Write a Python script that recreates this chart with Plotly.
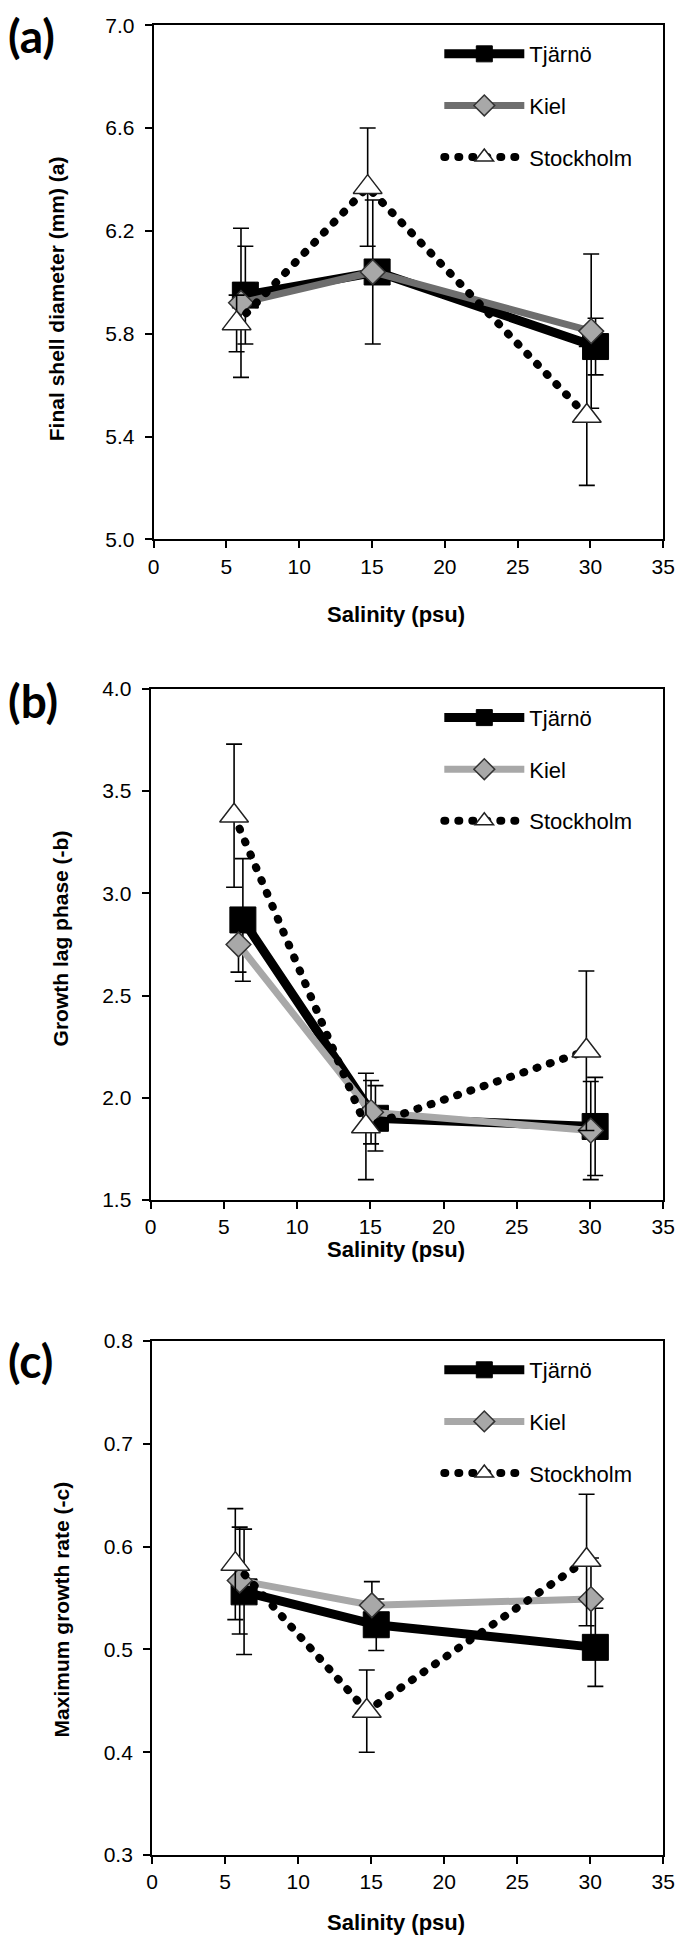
import plotly.graph_objects as go

W, H = 685, 1945

series = ["Tjärnö", "Kiel", "Stockholm"]
panel_labels = ["(a)", "(b)", "(c)"]
y_titles = ["Final shell diameter (mm) (a)", "Growth lag phase (-b)", "Maximum growth rate (-c)"]
x_title = "Salinity (psu)"

# salinity positions as plotted (slightly offset per population)
x_tjarno = [6.3, 15.35, 30.35]
x_kiel = [6.0, 15.05, 30.05]
x_stock = [5.7, 14.7, 29.75]

# (a) final shell diameter
a_tjarno = [5.95, 6.04, 5.75]
a_tjarno_err = [0.19, 0.04, 0.11]
a_kiel = [5.92, 6.04, 5.81]
a_kiel_err = [0.29, 0.28, 0.30]
a_stock = [5.84, 6.37, 5.48]
a_stock_err = [0.11, 0.23, 0.27]

# (b) growth lag phase
b_tjarno = [2.87, 1.90, 1.86]
b_tjarno_err = [0.30, 0.16, 0.24]
b_kiel = [2.75, 1.93, 1.84]
b_kiel_err = [0.135, 0.155, 0.24]
b_stock = [3.38, 1.86, 2.23]
b_stock_err = [0.35, 0.26, 0.39]

# (c) maximum growth rate
c_tjarno = [0.556, 0.524, 0.502]
c_tjarno_err = [0.061, 0.025, 0.038]
c_kiel = [0.567, 0.543, 0.549]
c_kiel_err = [0.052, 0.023, 0.040]
c_stock = [0.583, 0.440, 0.587]
c_stock_err = [0.054, 0.040, 0.064]

y_ranges = [[5.0, 7.0], [1.5, 4.0], [0.3, 0.8]]
y_dticks = [0.4, 0.5, 0.1]

FONT = "Liberation Sans, Arial, Helvetica, sans-serif"

# pixel geometry of each panel: (left, right, top, bottom)
panels_px = [(151.6, 675, 13.3, 533.7), (148.5, 675, 685, 1202.3), (150, 675, 1345, 1865)]

def px_x(p):
    return p / W

def px_y(p):
    return 1 - p / H

fig = go.Figure()

data = [
    (a_tjarno, a_tjarno_err, a_kiel, a_kiel_err, a_stock, a_stock_err),
    (b_tjarno, b_tjarno_err, b_kiel, b_kiel_err, b_stock, b_stock_err),
    (c_tjarno, c_tjarno_err, c_kiel, c_kiel_err, c_stock, c_stock_err),
]
kiel_line = ["#6e6e6e", "#a8a8a8", "#a8a8a8"]
legend_ids = ["legend", "legend2", "legend3"]

for i, (tj, tje, ki, kie, st, ste) in enumerate(data):
    xa = "x" if i == 0 else f"x{i+1}"
    ya = "y" if i == 0 else f"y{i+1}"
    err_style = dict(type="data", visible=True, color="black", thickness=1.6, width=8)
    fig.add_trace(go.Scatter(
        x=x_tjarno, y=tj, name=series[0], mode="lines+markers",
        xaxis=xa, yaxis=ya, legend=legend_ids[i], legendgroup=f"{i}T",
        line=dict(color="black", width=9),
        marker=dict(symbol="square", size=26, color="black", line=dict(color="black", width=1)),
        error_y=dict(array=tje, **err_style),
    ))
    fig.add_trace(go.Scatter(
        x=x_kiel, y=ki, name=series[1], mode="lines+markers",
        xaxis=xa, yaxis=ya, legend=legend_ids[i], legendgroup=f"{i}K",
        line=dict(color=kiel_line[i], width=7),
        marker=dict(symbol="diamond", size=19, color="#a8a8a8", line=dict(color="#333333", width=1.5)),
        error_y=dict(array=kie, **err_style),
    ))
    fig.add_trace(go.Scatter(
        x=x_stock, y=st, name=series[2], mode="lines+markers",
        xaxis=xa, yaxis=ya, legend=legend_ids[i], legendgroup=f"{i}S",
        line=dict(color="black", width=8, dash="1px,13px"),
        marker=dict(symbol="triangle-up", size=25, color="white", line=dict(color="#222222", width=1.5)),
        error_y=dict(array=ste, **err_style),
    ))

layout = dict(
    width=W, height=H,
    margin=dict(l=0, r=0, t=0, b=0),
    paper_bgcolor="white", plot_bgcolor="white",
    font=dict(family=FONT, size=21, color="black"),
    showlegend=True,
)

axis_common = dict(
    showline=True, linecolor="black", linewidth=2, mirror=True,
    ticks="outside", ticklen=7, tickwidth=2, tickcolor="black",
    showgrid=False, zeroline=False,
    tickfont=dict(family=FONT, size=21, color="black"),
    ticklabeloverflow="allow",
)

annotations = []
for i, (l, r, t, b) in enumerate(panels_px):
    xk = "xaxis" if i == 0 else f"xaxis{i+1}"
    yk = "yaxis" if i == 0 else f"yaxis{i+1}"
    ya = "y" if i == 0 else f"y{i+1}"
    xa = "x" if i == 0 else f"x{i+1}"
    layout[xk] = dict(axis_common, domain=[px_x(l), px_x(r)], range=[0, 35], dtick=5, tick0=0,
                      anchor=ya, ticklabelstandoff=0)
    layout[yk] = dict(axis_common, domain=[px_y(b), px_y(t)], range=y_ranges[i], dtick=y_dticks[i],
                      tick0=y_ranges[i][0], tickformat=".1f", anchor=xa, ticklabelstandoff=6)
    # legends
    layout[legend_ids[i]] = dict(
        x=px_x(445), y=px_y(t + 8), xanchor="left", yanchor="top",
        bgcolor="rgba(0,0,0,0)", borderwidth=0,
        font=dict(family=FONT, size=22, color="black"),
        itemwidth=80, tracegroupgap=20,
    )

# panel letters
label_y = [24, 697, 1365]
for i in range(3):
    annotations.append(dict(text=f"<b>{panel_labels[i]}</b>", x=0, y=px_y(label_y[i]),
                            xref="paper", yref="paper", xanchor="left", yanchor="middle",
                            showarrow=False, font=dict(family="Lato, Open Sans, sans-serif", size=46, color="black")))

# axis titles
x_title_y = [610, 1252, 1933]
y_title_c = [(52, 290), (56, 938), (57, 1617)]
for i in range(3):
    annotations.append(dict(text=f"<b>{x_title}</b>", x=px_x(401), y=px_y(x_title_y[i]),
                            xref="paper", yref="paper", xanchor="center", yanchor="middle",
                            showarrow=False, font=dict(family=FONT, size=22, color="black")))
    annotations.append(dict(text=f"<b>{y_titles[i]}</b>", x=px_x(y_title_c[i][0]), y=px_y(y_title_c[i][1]),
                            xref="paper", yref="paper", xanchor="center", yanchor="middle",
                            textangle=-90, showarrow=False, font=dict(family=FONT, size=21, color="black")))

layout["annotations"] = annotations
fig.update_layout(**layout)

post = """
var de = document.documentElement, bd = document.body;
[de, bd].forEach(function(e){
  e.style.margin = '0'; e.style.padding = '0';
  e.style.overflow = 'hidden'; e.style.height = '1945px'; e.style.width = '685px';
});
var gd = document.getElementById('{plot_id}');
function roundDots(){
  gd.querySelectorAll('path').forEach(function(p){
    var d = p.style.strokeDasharray;
    if (d && d !== 'none' && d.indexOf('13') !== -1) { p.style.strokeLinecap = 'round'; }
  });
}
roundDots();
gd.on('plotly_afterplot', roundDots);
"""

fig.write_html("out.html", post_script=post, config={"displayModeBar": False})
